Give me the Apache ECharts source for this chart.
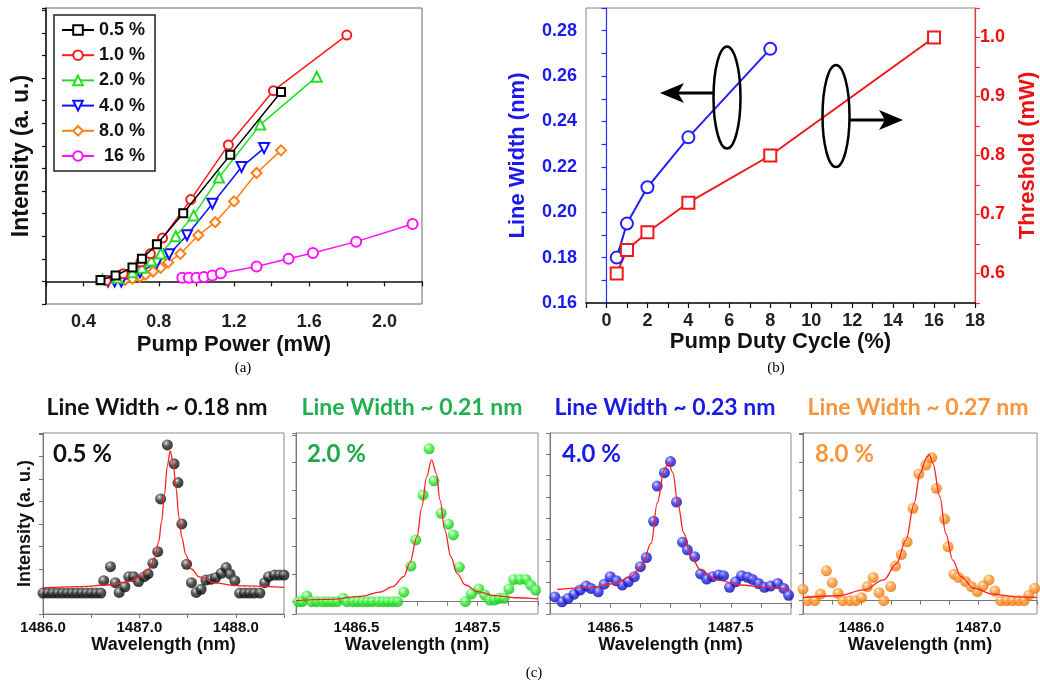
<!DOCTYPE html>
<html><head><meta charset="utf-8">
<script src="https://cdn.jsdelivr.net/npm/echarts@6/dist/echarts.min.js"></script>
<style>html,body{margin:0;padding:0;background:#fff}#c{width:1040px;height:683px}</style>
</head><body><div id="c"></div>
<script>
// ---------- (a) Intensity vs pump power ----------
const legendNames = ['0.5 %', '1.0 %', '2.0 %', '4.0 %', '8.0 %', ' 16 %'];
const pumpBlack = [[0.49,0.03],[0.57,0.13],[0.66,0.31],[0.71,0.5],[0.79,0.82],[0.93,1.51],[1.18,2.8],[1.45,4.19]];
const pumpRed = [[0.52,0.02],[0.61,0.17],[0.705,0.43],[0.755,0.61],[0.82,0.96],[0.97,1.81],[1.17,3.02],[1.41,4.22],[1.80,5.45]];
const pumpGreen = [[0.50,0.04],[0.58,0.08],[0.66,0.2],[0.71,0.3],[0.76,0.46],[0.81,0.62],[0.89,1.0],[0.985,1.46],[1.12,2.3],[1.34,3.47],[1.64,4.53]];
const pumpBlue = [[0.53,0.0],[0.565,0.0],[0.60,0.0],[0.70,0.2],[0.79,0.42],[0.855,0.6],[0.95,1.02],[1.085,1.72],[1.24,2.53],[1.36,2.95]];
const pumpOrange = [[0.62,0.03],[0.66,0.06],[0.70,0.1],[0.73,0.15],[0.77,0.22],[0.81,0.3],[0.85,0.42],[0.915,0.61],[1.01,1.02],[1.10,1.31],[1.20,1.77],[1.32,2.4],[1.45,2.9]];
const pumpMagenta = [[0.925,0.08],[0.96,0.08],[1.0,0.08],[1.04,0.1],[1.085,0.13],[1.13,0.18],[1.32,0.33],[1.49,0.5],[1.62,0.63],[1.85,0.88],[2.15,1.27]];

// ---------- (b) line width & threshold vs duty cycle ----------
const dutyLW = [0.5, 1, 2, 4, 8];
const lineWidthVals = [0.180, 0.195, 0.211, 0.233, 0.272];
const dutyTh = [0.5, 1, 2, 4, 8, 16];
const thresholdVals = [0.60, 0.64, 0.67, 0.72, 0.80, 1.00];

// ---------- (c) spectra ----------
const spec05 = [[1486.00,0.93],[1486.05,0.93],[1486.10,0.93],[1486.15,0.93],[1486.20,0.93],[1486.25,0.93],[1486.30,0.93],[1486.35,0.93],[1486.40,0.93],[1486.45,0.93],[1486.50,0.93],[1486.55,0.93],[1486.60,0.93],[1486.63,1.48],[1486.70,2.10],[1486.75,1.39],[1486.79,0.96],[1486.85,1.21],[1486.89,1.66],[1486.94,1.66],[1486.99,1.44],[1487.05,1.66],[1487.09,1.78],[1487.14,2.25],[1487.19,2.77],[1487.22,5.11],[1487.29,7.51],[1487.36,6.67],[1487.40,5.84],[1487.44,4.00],[1487.49,2.21],[1487.54,1.39],[1487.59,0.96],[1487.64,1.10],[1487.69,1.51],[1487.74,1.54],[1487.79,1.61],[1487.85,1.81],[1487.90,2.06],[1487.94,1.78],[1487.99,1.48],[1488.04,0.93],[1488.09,0.93],[1488.14,0.93],[1488.19,0.93],[1488.25,0.93],[1488.30,1.39],[1488.34,1.66],[1488.40,1.73],[1488.45,1.73],[1488.50,1.73]];
const fit05 = [[1486.0,1.17],[1486.4,1.22],[1486.7,1.3],[1486.9,1.45],[1487.02,1.67],[1487.1,2.0],[1487.16,2.5],[1487.2,3.2],[1487.23,4.1],[1487.26,5.3],[1487.29,6.6],[1487.32,7.25],[1487.35,6.7],[1487.38,5.6],[1487.41,4.3],[1487.44,3.4],[1487.48,2.65],[1487.54,2.0],[1487.62,1.65],[1487.8,1.37],[1488.0,1.26],[1488.5,1.18]];
const spec20 = [[1486.02,0],[1486.05,0],[1486.09,0.2],[1486.13,0],[1486.17,0],[1486.22,0],[1486.26,0],[1486.30,0],[1486.34,0],[1486.39,0.12],[1486.42,0],[1486.47,0],[1486.51,0],[1486.55,0],[1486.59,0],[1486.63,0],[1486.68,0],[1486.72,0],[1486.76,0],[1486.80,0],[1486.84,0],[1486.89,0.34],[1486.95,1.28],[1486.99,2.22],[1487.05,3.84],[1487.10,5.50],[1487.14,4.35],[1487.20,3.18],[1487.26,2.79],[1487.30,2.40],[1487.35,1.24],[1487.40,0],[1487.45,0.28],[1487.51,0.46],[1487.56,0.24],[1487.60,0.06],[1487.64,0.06],[1487.68,0.12],[1487.72,0.12],[1487.76,0.46],[1487.80,0.8],[1487.85,0.8],[1487.90,0.8],[1487.94,0.6],[1487.98,0.42]];
const fit20 = [[1486.0,0.04],[1486.27,0.08],[1486.55,0.2],[1486.69,0.34],[1486.8,0.54],[1486.89,0.9],[1486.94,1.38],[1487.0,2.34],[1487.04,3.42],[1487.08,4.5],[1487.12,5.1],[1487.16,4.62],[1487.19,3.66],[1487.23,2.58],[1487.28,1.62],[1487.33,1.02],[1487.4,0.6],[1487.5,0.36],[1487.64,0.22],[1487.81,0.14],[1488.0,0.1]];
const spec40 = [[1486.04,0.31],[1486.10,0.08],[1486.15,0.24],[1486.20,0.44],[1486.25,0.63],[1486.30,0.82],[1486.34,0.71],[1486.40,0.55],[1486.45,0.91],[1486.50,1.26],[1486.55,1.07],[1486.60,0.87],[1486.65,1.02],[1486.70,1.26],[1486.75,1.73],[1486.80,2.16],[1486.86,3.86],[1486.89,5.51],[1486.95,6.14],[1487.00,6.66],[1487.05,4.76],[1487.10,2.88],[1487.14,2.52],[1487.20,2.2],[1487.25,1.39],[1487.30,1.15],[1487.35,1.26],[1487.40,1.34],[1487.44,1.31],[1487.49,0.76],[1487.54,1.02],[1487.59,1.31],[1487.64,1.23],[1487.68,1.13],[1487.73,0.94],[1487.78,0.76],[1487.83,0.82],[1487.89,0.94],[1487.94,0.71],[1487.98,0.39]];
const fit40 = [[1486.06,0.66],[1486.34,0.76],[1486.54,0.94],[1486.67,1.26],[1486.76,1.73],[1486.84,2.83],[1486.89,4.72],[1486.95,6.3],[1486.98,6.61],[1487.02,6.14],[1487.06,4.72],[1487.11,3.31],[1487.17,2.2],[1487.25,1.57],[1487.39,1.1],[1487.58,0.87],[1487.80,0.76],[1487.99,0.66]];
const spec80 = [[1485.50,0.41],[1485.54,0],[1485.60,0],[1485.65,0.24],[1485.70,1.08],[1485.75,0.65],[1485.80,0.27],[1485.84,0],[1485.90,0],[1485.95,0],[1486.00,0.11],[1486.05,0.51],[1486.10,0.84],[1486.15,0.29],[1486.19,0],[1486.25,0.51],[1486.29,1.25],[1486.34,1.67],[1486.39,2.13],[1486.44,3.34],[1486.49,4.58],[1486.55,4.9],[1486.60,5.17],[1486.64,4.06],[1486.71,2.95],[1486.74,1.95],[1486.79,0.96],[1486.83,0.84],[1486.89,0.69],[1486.94,0.51],[1486.99,0.33],[1487.04,0.54],[1487.09,0.75],[1487.14,0.35],[1487.19,0],[1487.24,0],[1487.29,0],[1487.34,0],[1487.39,0],[1487.43,0.2],[1487.48,0.45]];
const fit80 = [[1485.5,0.11],[1485.8,0.18],[1486.02,0.39],[1486.19,0.75],[1486.3,1.35],[1486.38,2.19],[1486.45,3.52],[1486.5,4.6],[1486.56,5.2],[1486.58,5.29],[1486.61,4.96],[1486.67,3.76],[1486.72,2.43],[1486.78,1.47],[1486.85,0.87],[1486.96,0.45],[1487.12,0.24],[1487.32,0.14],[1487.5,0.12]];
const specTitles = ['Line Width ~ 0.18 nm', 'Line Width ~ 0.21 nm', 'Line Width ~ 0.23 nm', 'Line Width ~ 0.27 nm'];
const specLabels = ['0.5 %', '2.0 %', '4.0 %', '8.0 %'];

const chart = echarts.init(document.getElementById('c'), null, {renderer: 'canvas'});
const SANS = 'Liberation Sans, Arial, sans-serif';
const CAL = 'Lato, Noto Sans, sans-serif';
const GREY = '#8a8a8a';

function ball(light, c, dark) {
  return {type: 'radial', x: 0.38, y: 0.32, r: 0.75,
    colorStops: [{offset: 0, color: '#ffffff'}, {offset: 0.12, color: light}, {offset: 0.45, color: c}, {offset: 1, color: dark}]};
}

const cAxisX = (gi, min, max, interval, showFn) => ({
  type: 'value', gridIndex: gi, min: min, max: max, interval: interval,
  axisLine: {show: true, lineStyle: {color: '#777', width: 1}},
  axisTick: {show: true, length: 4, lineStyle: {color: '#777'}},
  splitLine: {show: false},
  axisLabel: {margin: 6, color: '#111', fontFamily: SANS, fontWeight: 'bold', fontSize: 15,
    formatter: v => showFn(v) ? v.toFixed(1) : ''},
  name: 'Wavelength (nm)', nameLocation: 'middle', nameGap: 20,
  nameTextStyle: {color: '#111', fontFamily: SANS, fontWeight: 'bold', fontSize: 18}
});
const cAxisY = (gi, min, max, extra) => Object.assign({
  type: 'value', gridIndex: gi, min: min, max: max,
  axisLine: {show: true, lineStyle: {color: '#777', width: 1}},
  axisTick: {show: true, length: 4, lineStyle: {color: '#777'}},
  splitLine: {show: false}, axisLabel: {show: false}
}, extra);

const isInt = v => Math.abs(v - Math.round(v)) < 1e-6;
const isHalf = v => Math.abs(v - Math.floor(v) - 0.5) < 1e-6;

const pumpSeries = [pumpBlack, pumpRed, pumpGreen, pumpBlue, pumpOrange, pumpMagenta];
const pumpColors = ['#000000', '#ff1a1a', '#22e022', '#1010ff', '#ff7f10', '#ff10ff'];
const pumpSymbols = ['emptyRect', 'emptyCircle', 'emptyTriangle', 'emptyTriangle', 'emptyDiamond', 'emptyCircle'];
const pumpSizes = [8, 9, 10, 10, 10, 10];
const pumpRot = [0, 0, 0, 180, 0, 0];

const series = [];
pumpSeries.forEach((d, i) => {
  series.push({type: 'line', name: legendNames[i], xAxisIndex: 0, yAxisIndex: 0, data: d,
    symbol: pumpSymbols[i], symbolSize: pumpSizes[i], symbolRotate: pumpRot[i], showAllSymbol: true,
    lineStyle: {color: pumpColors[i], width: 1.5}, itemStyle: {color: pumpColors[i], borderWidth: 1.5},
    z: 3 + (5 - i)});
});
series.push({type: 'line', name: 'lw', xAxisIndex: 1, yAxisIndex: 1,
  data: dutyLW.map((x, i) => [x, lineWidthVals[i]]),
  symbol: 'emptyCircle', symbolSize: 12, lineStyle: {color: '#1f1fff', width: 2},
  itemStyle: {color: '#1f1fff', borderWidth: 3}});
series.push({type: 'line', name: 'th', xAxisIndex: 1, yAxisIndex: 2,
  data: dutyTh.map((x, i) => [x, thresholdVals[i]]),
  symbol: 'emptyRect', symbolSize: 12, lineStyle: {color: '#f01818', width: 2},
  itemStyle: {color: '#f01818', borderWidth: 3}});

const specs = [spec05, spec20, spec40, spec80];
const fits = [fit05, fit20, fit40, fit80];
const dotCol = [['#9a9a9a', '#2a2a2a', '#000000'], ['#b0ffb0', '#33ee33', '#10b010'],
                ['#9090ff', '#2a2ae6', '#00009a'], ['#ffc890', '#ff9428', '#e06a00']];
specs.forEach((d, i) => {
  series.push({type: 'scatter', xAxisIndex: 2 + i, yAxisIndex: 3 + i, data: d, symbolSize: 11,
    itemStyle: {color: ball(dotCol[i][0], dotCol[i][1], dotCol[i][2])}, z: 2});
  series.push({type: 'line', xAxisIndex: 2 + i, yAxisIndex: 3 + i, data: fits[i], symbol: 'none',
    smooth: 0.35, smoothMonotone: 'x', lineStyle: {color: '#ff2020', width: 1.3}, z: 4});
});

const txt = (x, y, s, font, color, align) => ({type: 'text', x: x, y: y, silent: true,
  style: {text: s, font: font, fill: color, align: align || 'center', verticalAlign: 'middle'}});
const titleCols = ['#111111', '#22b050', '#1a1ae6', '#f7963c'];
const labelCols = ['#111111', '#1fa84a', '#1a1ae6', '#f7963c'];
const titleX = [157, 412, 665, 918];
const labelX = [53, 307, 562, 815];

const graphics = [
  txt(243, 368, '(a)', '15px "Liberation Serif", serif', '#000'),
  txt(776, 368, '(b)', '15px "Liberation Serif", serif', '#000'),
  txt(534, 673, '(c)', '15px "Liberation Serif", serif', '#000'),
  {type: 'ellipse', shape: {cx: 727, cy: 97.5, rx: 13.5, ry: 51}, style: {fill: 'none', stroke: '#000', lineWidth: 2.5}, z: 10},
  {type: 'ellipse', shape: {cx: 836, cy: 116, rx: 13.5, ry: 51}, style: {fill: 'none', stroke: '#000', lineWidth: 2.5}, z: 10},
  {type: 'polyline', shape: {points: [[714, 93], [678, 93]]}, style: {stroke: '#000', lineWidth: 3}, z: 10},
  {type: 'polygon', shape: {points: [[660, 93], [684, 83], [678, 93], [684, 103]]}, style: {fill: '#000'}, z: 10},
  {type: 'polyline', shape: {points: [[849, 120], [885, 120]]}, style: {stroke: '#000', lineWidth: 3}, z: 10},
  {type: 'polygon', shape: {points: [[903, 120], [879, 110], [885, 120], [879, 130]]}, style: {fill: '#000'}, z: 10}
];
specTitles.forEach((t, i) => graphics.push(txt(titleX[i], 408, t, 'bold 23px ' + CAL, titleCols[i])));
specLabels.forEach((t, i) => graphics.push(txt(labelX[i], 454, t, 'bold 24px ' + CAL, labelCols[i], 'left')));

const option = {
  backgroundColor: '#ffffff',
  animation: false,
  legend: {
    data: legendNames, orient: 'vertical', left: 54, top: 15,
    itemWidth: 32, itemHeight: 12, itemGap: 7.2, padding: [6, 10, 6, 7],
    borderColor: '#222', borderWidth: 1.5,
    textStyle: {fontFamily: SANS, fontWeight: 'bold', fontSize: 18, color: '#111'},
    selectedMode: false
  },
  grid: [
    {left: 46, top: 8, width: 376, height: 296, show: true, borderColor: '#666', borderWidth: 1},
    {left: 586, top: 8, width: 396, height: 295, show: true, borderColor: '#888', borderWidth: 1},
    {left: 43, top: 433, width: 241, height: 181, show: true, borderColor: GREY, borderWidth: 1},
    {left: 296, top: 433, width: 242, height: 181, show: true, borderColor: GREY, borderWidth: 1},
    {left: 550, top: 433, width: 241, height: 181, show: true, borderColor: GREY, borderWidth: 1},
    {left: 803, top: 433, width: 242, height: 181, show: true, borderColor: GREY, borderWidth: 1}
  ],
  xAxis: [
    {type: 'value', gridIndex: 0, min: 0.2, max: 2.2, interval: 0.2,
      axisLine: {show: true, lineStyle: {color: '#111', width: 1.5}},
      axisTick: {show: true, length: 5, lineStyle: {color: '#111', width: 1.2}},
      splitLine: {show: false},
      axisLabel: {margin: 9, color: '#222', fontFamily: SANS, fontWeight: 'bold', fontSize: 18,
        formatter: v => (Math.round(v * 10) % 4 === 0) ? v.toFixed(1) : ''},
      name: 'Pump Power (mW)', nameLocation: 'middle', nameGap: 30,
      nameTextStyle: {color: '#111', fontFamily: SANS, fontWeight: 'bold', fontSize: 22}},
    {type: 'value', gridIndex: 1, min: -1, max: 18, interval: 1,
      axisLine: {show: true, lineStyle: {color: '#111', width: 1.5}},
      axisTick: {show: true, length: 5, lineStyle: {color: '#111', width: 1.2}},
      splitLine: {show: false},
      axisLabel: {margin: 9, color: '#222', fontFamily: SANS, fontWeight: 'bold', fontSize: 18,
        formatter: v => (v >= 0 && Math.round(v) % 2 === 0) ? String(Math.round(v)) : ''},
      name: 'Pump Duty Cycle (%)', nameLocation: 'middle', nameGap: 28,
      nameTextStyle: {color: '#111', fontFamily: SANS, fontWeight: 'bold', fontSize: 22}},
    cAxisX(2, 1486.0, 1488.5, 0.5, isInt),
    cAxisX(3, 1486.0, 1488.0, 0.25, isHalf),
    cAxisX(4, 1486.0, 1488.0, 0.25, isHalf),
    cAxisX(5, 1485.5, 1487.5, 0.25, isInt)
  ],
  yAxis: [
    {type: 'value', gridIndex: 0, min: -0.5, max: 6.05, interval: 0.5,
      axisLine: {show: true, lineStyle: {color: '#111', width: 1.5}},
      axisTick: {show: true, length: 4, lineStyle: {color: '#111', width: 1.2}},
      splitLine: {show: false}, axisLabel: {show: false},
      name: 'Intensity (a. u.)', nameLocation: 'middle', nameGap: 13,
      nameTextStyle: {color: '#111', fontFamily: SANS, fontWeight: 'bold', fontSize: 23}},
    {type: 'value', gridIndex: 1, position: 'left', min: 0.16, max: 0.29, interval: 0.01,
      axisLine: {show: true, lineStyle: {color: '#2a2aff', width: 1.2}},
      axisTick: {show: true, length: 5, lineStyle: {color: '#2a2aff', width: 1.2}},
      splitLine: {show: false},
      axisLabel: {margin: 9, color: '#1a1aee', fontFamily: SANS, fontWeight: 'bold', fontSize: 18,
        formatter: v => (Math.round(v * 100) % 2 === 0) ? v.toFixed(2) : ''},
      name: 'Line Width (nm)', nameLocation: 'middle', nameGap: 57,
      nameTextStyle: {color: '#1a1aee', fontFamily: SANS, fontWeight: 'bold', fontSize: 22}},
    {type: 'value', gridIndex: 1, position: 'right', min: 0.55, max: 1.05, interval: 0.05,
      axisLine: {show: true, lineStyle: {color: '#ff3030', width: 1.2}},
      axisTick: {show: true, length: 5, lineStyle: {color: '#ff3030', width: 1.2}},
      splitLine: {show: false},
      axisLabel: {margin: 5, color: '#ee1111', fontFamily: SANS, fontWeight: 'bold', fontSize: 18,
        formatter: v => (Math.round(v * 100) % 10 === 0) ? v.toFixed(1) : ''},
      name: 'Threshold (mW)', nameLocation: 'middle', nameGap: 42,
      nameTextStyle: {color: '#ee1111', fontFamily: SANS, fontWeight: 'bold', fontSize: 22}},
    cAxisY(2, 0, 8.04, {interval: 1, name: 'Intensity (a. u.)', nameLocation: 'middle', nameGap: 9,
      nameTextStyle: {color: '#111', fontFamily: SANS, fontWeight: 'bold', fontSize: 18}}),
    cAxisY(3, -0.444, 6.07, {splitNumber: 6}),
    cAxisY(4, -0.49, 8.0, {splitNumber: 8}),
    cAxisY(5, -0.48, 6.06, {splitNumber: 6})
  ],
  series: series,
  graphic: graphics
};
chart.setOption(option);
</script></body></html>
